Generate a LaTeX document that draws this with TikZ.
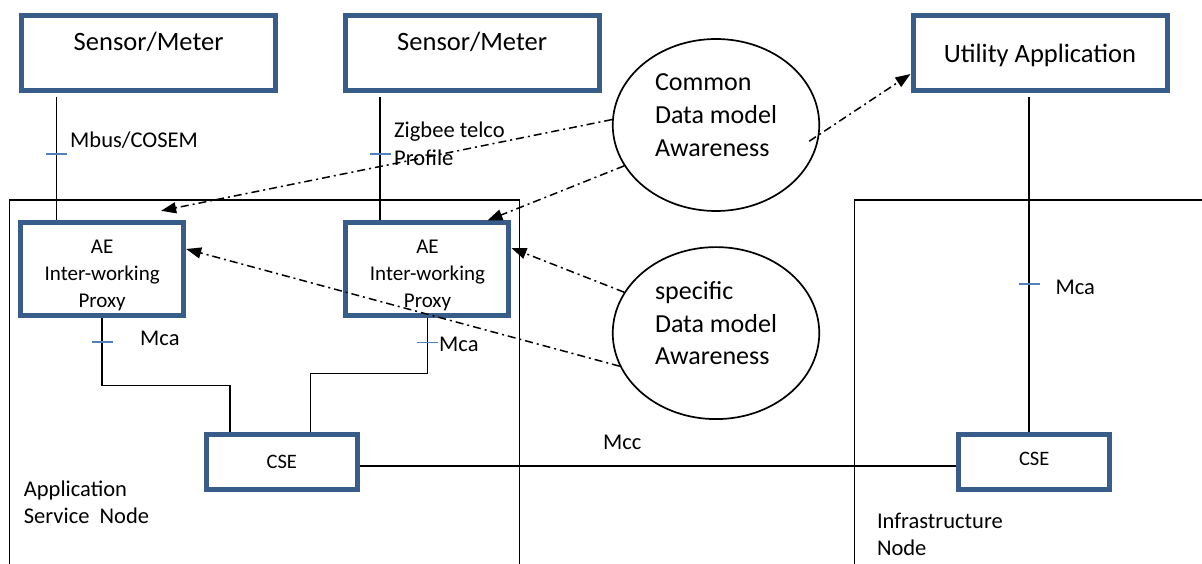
\documentclass[tikz,border=0pt]{standalone}
\usepackage{fontspec}
\setmainfont{Carlito}
\usepackage{tikz}
\usetikzlibrary{shapes.geometric, arrows.meta, positioning}
\definecolor{boxblue}{RGB}{56,93,138}
\definecolor{tickblue}{RGB}{79,129,189}
\tikzset{
  bigbox/.style={rectangle, draw=boxblue, fill=white, line width=5pt,
    minimum width=254pt, minimum height=75pt, align=center,
    font=\fontsize{26.5}{32}\selectfont},
  aebox/.style={rectangle, draw=boxblue, fill=white, line width=5pt,
    minimum width=163pt, minimum height=92pt, align=center,
    font=\fontsize{21}{27}\selectfont},
  csebox/.style={rectangle, draw=boxblue, fill=white, line width=5pt,
    minimum width=151.5pt, minimum height=54.5pt,
    font=\fontsize{20.5}{24}\selectfont},
  awareness/.style={ellipse, draw, fill=white, line width=1.7pt,
    minimum width=206.5pt, minimum height=172pt, align=left,
    font=\fontsize{26}{32.8}\selectfont},
  nodeframe/.style={rectangle, draw, line width=1.5pt, minimum height=400pt},
  lbl/.style={inner sep=0pt, font=\fontsize{22.5}{27.5}\selectfont},
  link/.style={line width=1.5pt},
  tickmark/.style={draw=tickblue, line width=1.5pt},
  dda/.style={-{Triangle[length=15pt, width=11pt]}, line width=1.5pt,
    dash pattern=on 8pt off 4pt on 2pt off 4pt}
}

\begin{document}
\begin{tikzpicture}[x=1pt, y=-1pt]
  \useasboundingbox (0,0) rectangle (1202,564);

  % node frames
  \node[nodeframe, minimum width=509.7pt] (asn) at (264.45,400) {};
  \node[nodeframe, minimum width=395.4pt] (inf) at (1052.3,400) {};

  \node[bigbox, text height=18pt, text depth=22pt] (sm1) at (148.65,52.7) {Sensor/Meter};
  \node[bigbox, text height=18pt, text depth=22pt, right=64.5pt of sm1] (sm2) {Sensor/Meter};
  \node[bigbox, text height=26pt, text depth=6pt] (util) at (1040,52.7) {Utility Application};

  \node[aebox] (ae1) at (102.15,269) {\rule{0pt}{25.7pt}AE\\Inter-working\\Proxy};
  \node[aebox, right=157.3pt of ae1] (ae2) {\rule{0pt}{25.7pt}AE\\Inter-working\\Proxy};

  \node[csebox] (cse1) at (281.8,462) {CSE};
  \node[csebox, text depth=7pt] (cse2) at (1034.2,462) {CSE};

  \node[awareness] (cdm) at (716,125) {Common\\Data model\\Awareness\rule[-20pt]{0pt}{20pt}};
  \node[awareness, below=34.4pt of cdm] (sdm) {specific\\Data model\\Awareness\rule[-20pt]{0pt}{20pt}};

  % reference point labels
  \node[lbl, anchor=base west] (mbus) at (70,147.7) {Mbus/COSEM};
  \node[lbl, anchor=north west, align=left] (zig) at (394,122) {Zigbee telco\\Profile};
  \node[lbl, anchor=base west] (mca1) at (140,345) {Mca};
  \node[lbl, anchor=base west] (mca2) at (439,351.7) {Mca};
  \node[lbl, anchor=base west] (mca3) at (1055.4,294.3) {Mca};
  \node[lbl, anchor=base west] (mcc) at (603,449) {Mcc};
  \node[lbl, anchor=north west, align=left] (asnlbl) at (23.7,480.2) {Application\\Service\ \ Node};
  \node[lbl, anchor=north west, align=left] (inflbl) at (876.8,512.8) {Infrastructure\\Node};

  \draw[link] (56.3,0 |- sm1.south) ++(0,4) -- coordinate[pos=0.462] (t1) (56.3,0 |- ae1.north);
  \draw[link] (380,0 |- sm2.south) ++(0,4) -- coordinate[pos=0.462] (t2) (380,0 |- ae2.north);
  \draw[link] (ae1.south) |- coordinate[pos=0.18] (t3) (230,385.7) -- (230,0 |- cse1.north);
  \draw[link] (ae2.south) |- coordinate[pos=0.222] (t4) (310.4,373.3) -- (310.4,0 |- cse1.north);
  \draw[link] (1029.2,0 |- util.south) ++(0,4) -- coordinate[pos=0.558] (t5) (1029.2,0 |- cse2.north);
  \draw[link] ([yshift=-4pt]cse1.east) -- ([yshift=-4pt]cse2.west);

  \foreach \t in {t1,t2,t3,t4,t5}
    \draw[tickmark] ([xshift=-10.5pt]\t) -- ([xshift=10.5pt]\t);

  % data model awareness
  \draw[dda] (cdm.177) -- ([xshift=-25pt, yshift=9.7pt]ae1.north east);
  \draw[dda] (cdm.204) -- ([xshift=-24pt]ae2.north east);
  \draw[dda] ([xshift=-9pt]cdm.351) -- ([yshift=18.7pt]util.south west);
  \draw[dda] (sdm.156) -- ([yshift=21pt]ae2.east);
  \draw[dda] (sdm.199) -- ([yshift=20pt]ae1.east);
\end{tikzpicture}
\end{document}
